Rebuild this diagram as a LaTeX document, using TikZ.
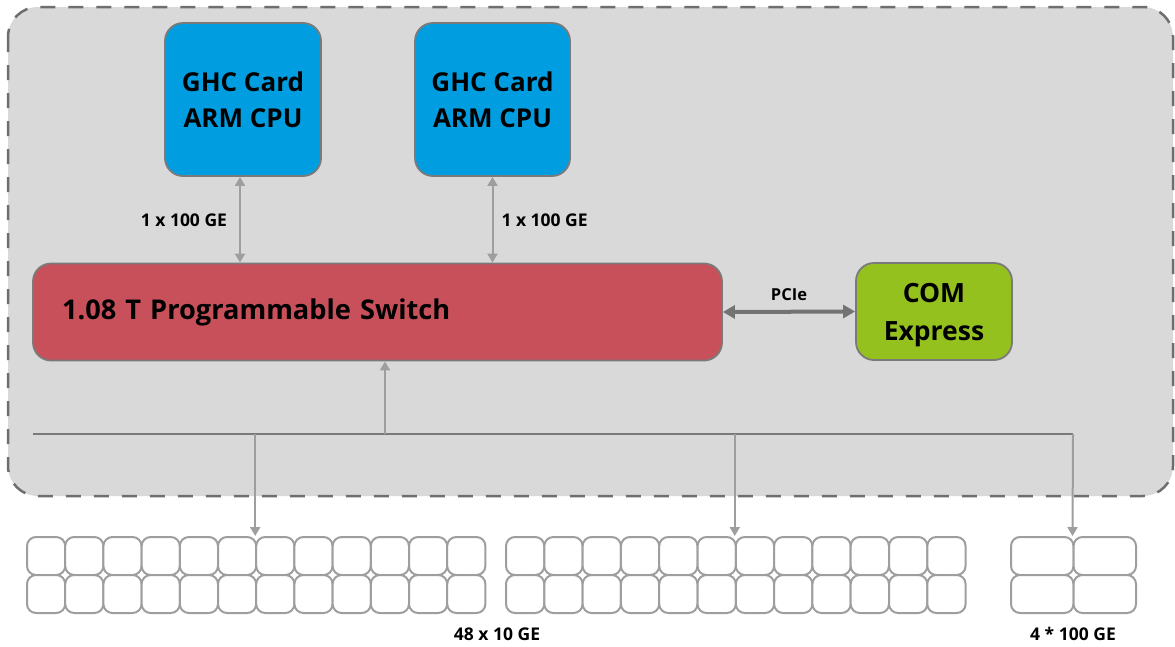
\documentclass[tikz,border=0pt]{standalone}
\usepackage{fontspec}
\setmainfont{Open Sans}
\usetikzlibrary{arrows.meta}
\usetikzlibrary{positioning}

\definecolor{panelgray}{HTML}{D9D9D9}
\definecolor{dashgray}{HTML}{6E6E6E}
\definecolor{edgegray}{HTML}{7A7A7A}
\definecolor{linkgray}{HTML}{9E9E9E}
\definecolor{pciegray}{HTML}{737373}
\definecolor{cpublue}{HTML}{009EE0}
\definecolor{switchred}{HTML}{C8505A}
\definecolor{comgreen}{HTML}{95C11F}

\tikzset{
  card/.style={draw=edgegray, line width=1.8pt, rounded corners=18pt, inner sep=0pt,
    font=\bfseries\fontsize{26}{36}\selectfont, align=center},
  port/.style={draw=linkgray, line width=2pt, fill=white, rounded corners=9pt,
    minimum height=38pt, inner sep=0pt},
  link/.style={linkgray, line width=2pt},
  gtip/.tip={Triangle[length=9pt,width=10pt]},
  ptip/.tip={Triangle[length=12pt,width=13pt]},
  lbl/.style={text=black, font=\bfseries\fontsize{17.5}{20}\selectfont, inner sep=0pt},
}

\begin{document}
\begin{tikzpicture}[x=1pt, y=-1pt]
\useasboundingbox (0,0) rectangle (1175,646);

% chassis panel
\draw[dashgray, fill=panelgray, line width=2.5pt, dash pattern=on 15pt off 13pt, rounded corners=30pt]
  (8,7) rectangle (1173,496);

% main blocks
\node[card, fill=cpublue, minimum width=156pt, minimum height=153pt, text depth=-3pt] (ghcA) at (243,99.5) {GHC Card\\ARM CPU};
\node[card, fill=cpublue, minimum width=155pt, minimum height=153pt, text depth=-3pt] (ghcB) at (492.5,99.5) {GHC Card\\ARM CPU};
\node[card, fill=switchred, minimum width=689pt, minimum height=97pt, text width=631pt, align=left,
  font=\bfseries\fontsize{27.2}{30}\selectfont] (switch) at (377.5,312) {1.08 T Programmable Switch};
\node[card, fill=comgreen, minimum width=156pt, minimum height=97pt, text depth=-7pt,
  font=\bfseries\fontsize{26.5}{38}\selectfont] (comx) at (934,311.5) {COM\\Express};

% ports
\foreach \r in {1,2} {
  \foreach \c in {1,...,12} {
    \node[port, minimum width=38.2pt] (pA-\r-\c) at ({27+38.2*(\c-1)+19.1},{537+38*(\r-1)+19}) {};
    \node[port, minimum width=38.3pt] (pB-\r-\c) at ({506+38.3*(\c-1)+19.15},{537+38*(\r-1)+19}) {};
  }
  \foreach \c in {1,2} {
    \node[port, minimum width=62.5pt] (pC-\r-\c) at ({1011+62.5*(\c-1)+31.25},{537+38*(\r-1)+19}) {};
  }
}

% links between cards and switch
\coordinate (upA) at ([xshift=-3pt]ghcA.south);
\draw[link, gtip-gtip] (upA) -- node[lbl, left=12pt]{1 x 100 GE} (upA |- switch.north);
\draw[link, gtip-gtip] (ghcB.south) -- node[lbl, right=8pt]{1 x 100 GE} (ghcB.south |- switch.north);
\draw[pciegray, line width=4pt, ptip-ptip]
  (switch.east) -- node[lbl, above=9pt, font=\bfseries\fontsize{16.5}{18}\selectfont]{PCIe} (comx.west);

% port bus
\coordinate (busL) at (33,434);
\coordinate (busR) at (1073,434);
\coordinate (busUp) at (385,434);
\coordinate (tapA) at (pA-1-7.north west |- busL);
\coordinate (tapB) at (pB-1-7.north west |- busL);
\draw[edgegray, line width=2pt] (busL) -- (busR);
\draw[link, -gtip] (busUp) -- (busUp |- switch.south);
\draw[link, -gtip] (tapA) -- (pA-1-7.north west);
\draw[link, -gtip] (tapB) -- (pB-1-7.north west);
\draw[link, -gtip] (busR) -- (pC-1-2.north west);

% port labels
\node[lbl] (tenGE) at (497,634) {48 x 10 GE};
\node[lbl] (hundredGE) at (1073,634) {4 * 100 GE};
\end{tikzpicture}
\end{document}
